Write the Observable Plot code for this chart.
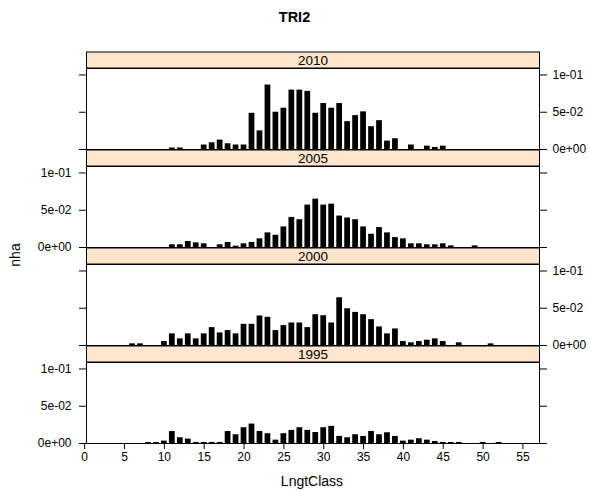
<!DOCTYPE html>
<html>
<head>
<meta charset="utf-8">
<script src="https://cdn.jsdelivr.net/npm/d3@7"></script>
<script src="https://cdn.jsdelivr.net/npm/@observablehq/plot@0.6"></script>
<style>
  body { margin: 0; background: #fff; }
  #chart { position: relative; width: 589px; height: 491px; font-family: "Liberation Sans", Arial, sans-serif; color: #000; overflow: hidden; }
  #chart .title { position: absolute; left: 0; width: 589px; top: 9px; text-align: center; font-weight: bold; font-size: 14.5px; line-height: 16px; }
  #chart .ylab { position: absolute; left: 15px; top: 255px; transform: translate(-50%, -50%) rotate(-90deg); font-size: 14px; white-space: nowrap; }
  #chart .xlab { position: absolute; left: 312px; top: 481px; transform: translate(-50%, -50%); font-size: 14px; white-space: nowrap; }
  #chart svg { position: absolute; left: 0; display: block; }
</style>
</head>
<body>
<div id="chart"></div>
<script>
// Panel order, top to bottom
const years = ["2010", "2005", "2000", "1995"];

// Length classes (cm) and density (nha) per survey year
const lngt2010 = [11, 12, 15, 16, 17, 18, 19, 20, 21, 22, 23, 24, 25, 26, 27, 28, 29, 30, 31, 32, 33, 34, 35, 36, 37, 38, 39, 41, 43, 44, 45];
const nha2010  = [0.002, 0.002, 0.006, 0.009, 0.0126, 0.0077, 0.006, 0.006, 0.0486, 0.025, 0.0865, 0.050, 0.0554, 0.0797, 0.0797, 0.078, 0.0486, 0.0617, 0.0554, 0.0617, 0.0374, 0.0455, 0.0505, 0.0306, 0.0387, 0.0113, 0.0144, 0.006, 0.0045, 0.0027, 0.0045];

const lngt2005 = [11, 12, 13, 14, 15, 17, 18, 19, 20, 21, 22, 23, 24, 25, 26, 27, 28, 29, 30, 31, 32, 33, 34, 35, 36, 37, 38, 39, 40, 41, 42, 43, 44, 45, 46, 49];
const nha2005  = [0.0036, 0.0036, 0.008, 0.0062, 0.0049, 0.0036, 0.0067, 0.0018, 0.0049, 0.0067, 0.0116, 0.0196, 0.0164, 0.0276, 0.0404, 0.0373, 0.0569, 0.0649, 0.0569, 0.0582, 0.0422, 0.0396, 0.0373, 0.0276, 0.0178, 0.0267, 0.0196, 0.0133, 0.0116, 0.0049, 0.0049, 0.0036, 0.0036, 0.0049, 0.0022, 0.0022];

const lngt2000 = [6, 7, 10, 11, 12, 13, 14, 15, 16, 17, 18, 19, 20, 21, 22, 23, 24, 25, 26, 27, 28, 29, 30, 31, 32, 33, 34, 35, 36, 37, 38, 39, 40, 41, 42, 43, 44, 45, 47, 51];
const nha2000  = [0.0022, 0.0022, 0.0053, 0.0156, 0.0089, 0.0156, 0.0089, 0.0156, 0.024, 0.0169, 0.020, 0.0156, 0.0284, 0.0284, 0.0396, 0.0378, 0.020, 0.0267, 0.0302, 0.0302, 0.024, 0.0413, 0.040, 0.0302, 0.064, 0.0493, 0.0444, 0.0413, 0.0347, 0.0249, 0.0156, 0.0222, 0.0053, 0.0036, 0.0053, 0.0071, 0.0089, 0.0053, 0.0036, 0.0022];

const lngt1995 = [8, 9, 10, 11, 12, 13, 14, 15, 16, 17, 18, 19, 20, 21, 22, 23, 24, 25, 26, 27, 28, 29, 30, 31, 32, 33, 34, 35, 36, 37, 38, 39, 40, 41, 42, 43, 44, 45, 46, 47, 50, 52];
const nha1995  = [0.0014, 0.0014, 0.0032, 0.0162, 0.0077, 0.0059, 0.0014, 0.0014, 0.0014, 0.0014, 0.0162, 0.0117, 0.0212, 0.0261, 0.0162, 0.0131, 0.0045, 0.0131, 0.0176, 0.0212, 0.0176, 0.0147, 0.0212, 0.023, 0.0095, 0.0077, 0.0117, 0.0095, 0.0162, 0.0117, 0.0144, 0.0095, 0.0032, 0.0045, 0.0063, 0.0045, 0.0027, 0.0014, 0.0014, 0.0014, 0.0014, 0.0014];

// Axis ticks and their printed labels
const xTicks = [0, 5, 10, 15, 20, 25, 30, 35, 40, 45, 50, 55];
const yTicks = [0, 0.05, 0.1];
const yTickLabels = ["0e+00", "5e-02", "1e-01"];

const series = {
  "2010": [lngt2010, nha2010],
  "2005": [lngt2005, nha2005],
  "2000": [lngt2000, nha2000],
  "1995": [lngt1995, nha1995]
};
// y-axis labels alternate sides between panels; ticks are drawn on both sides
const labelSide = {"2010": "right", "2005": "left", "2000": "right", "1995": "left"};

const chart = document.getElementById("chart");
const font = '"Liberation Sans", Arial, sans-serif';
const svgStyle = {background: "transparent", overflow: "visible", fontFamily: font, color: "#000"};

const title = document.createElement("div");
title.className = "title";
title.textContent = "TRI2";
chart.appendChild(title);

const firstTop = 51, stripH = 17, panelH = 81, blockH = stripH + panelH;

function place(svg, top) {
  svg.querySelectorAll("style").forEach(s => s.remove());
  svg.style.top = top + "px";
  chart.appendChild(svg);
}

years.forEach((year, i) => {
  const [lngt, nha] = series[year];
  const data = lngt.map((k, j) => ({LngtClass: k, nha: nha[j]}));
  const last = i === years.length - 1;
  const stripTop = firstTop + i * blockH;
  const panelTop = stripTop + stripH;
  const mb = last ? 30 : 0;

  const yAxis = side => Plot.axisY({
    anchor: side,
    ticks: yTicks,
    tickSize: 7,
    tickPadding: side === "left" ? 8 : 6,
    tickFormat: d => yTickLabels[yTicks.indexOf(d)],
    fill: labelSide[year] === side ? "#000" : "none",
    label: null
  });

  const marks = [
    Plot.rectY(data, {x1: d => d.LngtClass - 0.36, x2: d => d.LngtClass + 0.36, y1: 0, y2: "nha", fill: "#000"}),
    Plot.frame({stroke: "#000", strokeWidth: 1}),
    yAxis("left"),
    yAxis("right")
  ];
  if (last) {
    marks.push(Plot.axisX({ticks: xTicks, tickSize: 6, tickPadding: 3, tickFormat: d => String(d), label: null}));
  }

  // panel with bars
  place(Plot.plot({
    width: 589,
    height: panelH + mb,
    marginLeft: 86,
    marginRight: 50,
    marginTop: 0,
    marginBottom: mb,
    x: {domain: [0.23, 57.08]},
    y: {domain: [0, 0.1087]},
    style: {...svgStyle, fontSize: "12px"},
    marks
  }), panelTop);

  // strip with the year above the panel
  place(Plot.plot({
    width: 589,
    height: stripH,
    marginLeft: 86,
    marginRight: 50,
    marginTop: 0.5,
    marginBottom: 0.5,
    style: {...svgStyle, fontSize: "13.5px"},
    marks: [
      Plot.frame({fill: "#ffe5cc", stroke: "#000", strokeWidth: 1}),
      Plot.text([year], {frameAnchor: "middle", text: d => d, fill: "#000", dy: 0.5})
    ]
  }), stripTop);
});

const ylab = document.createElement("div");
ylab.className = "ylab";
ylab.textContent = "nha";
chart.appendChild(ylab);

const xlab = document.createElement("div");
xlab.className = "xlab";
xlab.textContent = "LngtClass";
chart.appendChild(xlab);
</script>
</body>
</html>
